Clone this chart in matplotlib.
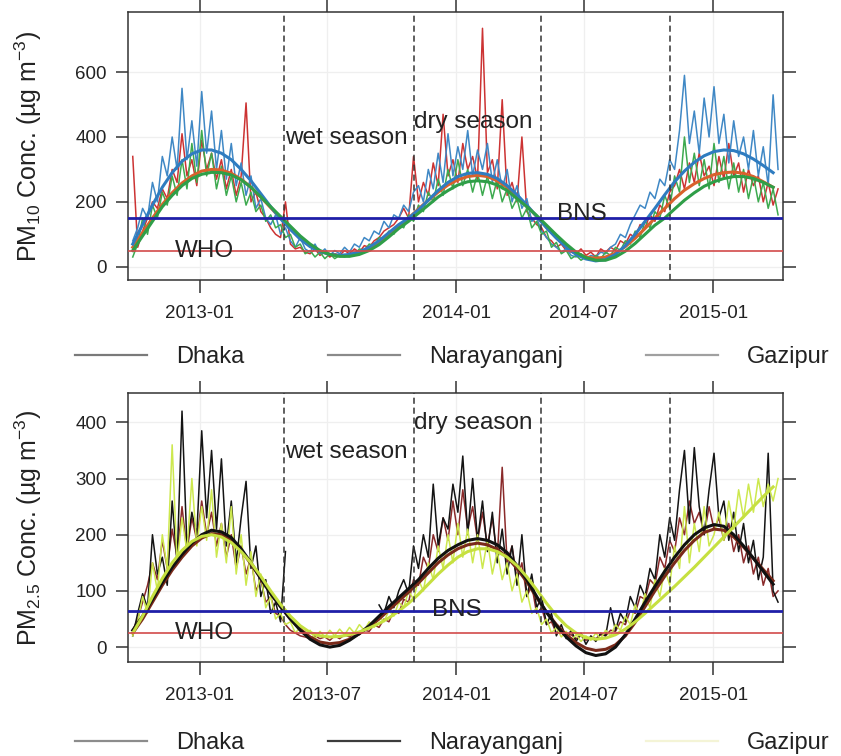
"""
Daily PM10 / PM2.5 at the three monitoring stations (Dhaka, Narayanganj, Gazipur),
with smoothed seasonal fits, season boundaries and the BNS / WHO standards.
"""

import numpy as np
import pandas as pd
import matplotlib
matplotlib.use("Agg")
import matplotlib.pyplot as plt
from matplotlib.lines import Line2D

plt.rcParams["font.family"] = ["Liberation Sans", "DejaVu Sans"]
plt.rcParams["mathtext.fontset"] = "custom"
plt.rcParams["mathtext.rm"] = "Liberation Sans"
plt.rcParams["mathtext.it"] = "Liberation Sans:italic"

# ─────────────────────────────────────────────────────────────────────────────
# Data (weekly samples from 2012-09-28; smooth fits every two weeks)
# ─────────────────────────────────────────────────────────────────────────────

START = "2012-09-28"
STATIONS = ["Dhaka", "Narayanganj", "Gazipur"]
SEASON_BREAKS = ["2013-05-01", "2013-11-01", "2014-05-01", "2014-11-01"]
TICK_DATES = ["2013-01-01", "2013-07-01", "2014-01-01", "2014-07-01", "2015-01-01"]
TICK_LABELS = ["2013-01", "2013-07", "2014-01", "2014-07", "2015-01"]

PM10_BNS, PM10_WHO = 150, 50
PM25_BNS, PM25_WHO = 65, 25

pm10_dhaka = [
    340, 60, 110, 150, 200, 180, 240, 210, 300, 260, 410, 280, 330, 250, 390, 300,
    350, 270, 330, 240, 300, 220, 280, 505, 200, 230, 170, 150, 120, 100, 90, 200,
    70, 55, 60, 45, 40, 55, 35, 45, 30, 40, 35, 50, 40, 55, 45, 65,
    60, 80, 90, 110, 120, 130, 150, 180, 150, 340, 200, 260, 220, 320, 250, 470,
    280, 330, 260, 380, 300, 340, 270, 735, 290, 330, 240, 515, 220, 260, 200, 400,
    170, 150, 130, 120, 90, 80, 60, 70, 50, 45, 40, 55, 35, 45, 30, 55,
    45, 60, 50, 80, 70, 100, 90, 130, 120, 160, 140, 190, 170, 230, 250, 300,
    240, 320, 260, 350, 280, 310, 250, 340, 270, 380, 280, 320, 230, 300, 250, 280,
    200, 260, 190, 240,
]
pm10_narayanganj = [
    80, 120, 180, 150, 260, 200, 340, 280, 400, 300, 550, 330, 450, 310, 540, 350,
    480, 300, 420, 270, 380, 250, 320, 220, 280, 180, 210, 150, 130, 160, 100, 120,
    80, 60, 90, 55, 45, 70, 40, 55, 35, 50, 40, 60, 45, 70, 60, 90,
    80, 110, 100, 140, 120, 160, 150, 190, 170, 230, 250, 200, 300, 240, 350, 260,
    410, 280, 370, 300, 420, 280, 360, 300, 380, 260, 330, 240, 300, 200, 250, 180,
    210, 140, 150, 110, 90, 70, 60, 45, 55, 35, 30, 40, 25, 35, 30, 45,
    40, 60, 70, 100, 90, 130, 160, 190, 180, 230, 210, 270, 250, 330, 300, 420,
    590, 380, 480, 350, 520, 400, 555, 380, 470, 320, 450, 340, 400, 300, 420, 280,
    370, 250, 530, 300,
]
pm10_gazipur = [
    30, 70, 150, 100, 190, 150, 230, 190, 280, 220, 330, 240, 380, 260, 420, 280,
    350, 240, 310, 220, 280, 200, 260, 190, 230, 170, 190, 140, 160, 120, 130, 90,
    100, 60, 70, 40, 50, 30, 45, 25, 40, 25, 35, 30, 40, 35, 55, 50,
    70, 65, 90, 85, 110, 100, 130, 120, 160, 140, 190, 170, 230, 200, 270, 220,
    300, 240, 330, 250, 300, 230, 290, 220, 280, 210, 270, 200, 240, 180, 210, 150,
    180, 120, 140, 100, 110, 60, 75, 40, 50, 25, 35, 20, 30, 20, 35, 25,
    45, 35, 60, 50, 80, 70, 110, 90, 140, 120, 170, 150, 220, 180, 280, 230,
    400, 260, 350, 250, 330, 240, 380, 260, 340, 240, 320, 230, 300, 210, 280, 200,
    260, 180, 240, 160,
]

pm10_dhaka_fit = [
    60, 105, 150, 192, 228, 258, 280, 295, 300, 298, 288, 270, 245, 215, 182, 150,
    118, 88, 64, 48, 38, 34, 35, 42, 56, 75, 98, 124, 150, 178, 205, 230,
    252, 268, 278, 282, 278, 265, 245, 218, 188, 155, 122, 90, 62, 42, 30, 26,
    30, 42, 62, 88, 118, 150, 180, 210, 236, 256, 272, 284, 290, 292, 288, 278,
    262, 245,
]
pm10_narayanganj_fit = [
    70, 130, 190, 245, 290, 325, 348, 360, 360, 350, 330, 300, 265, 225, 185, 148,
    115, 85, 62, 47, 38, 35, 38, 46, 60, 80, 105, 130, 150, 175, 205, 235,
    260, 278, 288, 290, 285, 272, 250, 222, 190, 155, 120, 88, 60, 38, 24, 18,
    22, 38, 65, 100, 140, 180, 222, 262, 295, 322, 342, 355, 360, 358, 348, 332,
    312, 290,
]
pm10_gazipur_fit = [
    50, 95, 140, 185, 220, 250, 272, 285, 291, 290, 283, 268, 245, 215, 185, 155,
    125, 95, 70, 50, 38, 32, 32, 38, 50, 68, 92, 118, 140, 165, 190, 215,
    235, 252, 262, 265, 262, 252, 235, 210, 185, 158, 128, 98, 70, 45, 28, 20,
    20, 30, 48, 72, 100, 128, 150, 178, 205, 228, 248, 262, 272, 278, 278, 272,
    260, 245,
]

nan = np.nan
pm25_dhaka = [
    30, 50, 80, 110, 150, 120, 190, 140, 210, 160, 250, 170, 230, 190, 260, 200,
    240, 180, 220, 160, 200, 140, 180, 130, 160, 100, 120, 80, 90, 60, 55, 40,
    30, 25, 20, 18, 15, 20, 15, 18, 12, 20, 15, 22, 18, 25, 22, 30,
    28, 40, 35, 50, 45, 65, 60, 85, 80, 120, 110, 160, 140, 200, 170, 230,
    190, 260, 200, 280, 210, 250, 190, 240, 180, 230, 160, 320, 150, 180, 120, 150,
    90, 110, 60, 70, 40, 45, 25, 30, 20, 22, 15, 20, 12, 18, 15, 22,
    20, 30, 28, 45, 40, 65, 60, 90, 85, 120, 110, 160, 140, 190, 170, 230,
    200, 260, 220, 240, 200, 250, 210, 230, 190, 220, 170, 200, 150, 180, 130, 160,
    110, 140, 90, 100,
]
pm25_narayanganj = [
    20, 60, 95, 70, 200, 130, 160, 110, 260, 150, 420, 180, 240, 200, 385, 230,
    350, 210, 335, 180, 260, 150, 230, 295, 140, 180, 90, 120, 60, 80, 45, 170,
    nan, nan, nan, nan, nan, nan, nan, nan, nan, nan, nan, nan, nan, nan, nan, nan,
    nan, nan, 75, 60, 90, 70, 100, 120, 95, 180, 140, 200, 160, 290, 180, 230,
    210, 290, 240, 340, 200, 300, 190, 260, 170, 240, 150, 210, 130, 180, 110, 200,
    90, 130, 70, 90, 40, 60, 20, 40, 15, 30, 10, 25, 5, 20, 10, 25,
    20, 70, 30, 60, 45, 90, 70, 110, 90, 140, 120, 200, 160, 230, 190, 280,
    350, 220, 355, 250, 200, 280, 345, 230, 260, 190, 240, 170, 220, 150, 190, 120,
    160, 345, 100, 80,
]
pm25_gazipur = [
    20, 45, 90, 60, 150, 100, 200, 140, 360, 150, 230, 170, 300, 180, 250, 190,
    280, 160, 220, 150, 250, 130, 200, 110, 170, 90, 130, 70, 90, 50, 60, 40,
    45, 25, 35, 20, 30, 15, 28, 18, 30, 20, 32, 22, 35, 25, 40, 30,
    45, 35, 55, 45, 65, 55, 80, 70, 100, 85, 120, 100, 150, 120, 180, 140,
    200, 150, 220, 160, 210, 150, 200, 140, 190, 130, 170, 120, 150, 100, 130, 80,
    100, 60, 70, 40, 50, 25, 35, 18, 28, 12, 22, 10, 20, 12, 25, 15,
    30, 20, 40, 30, 55, 40, 75, 55, 95, 70, 120, 90, 140, 110, 180, 140,
    250, 150, 220, 170, 250, 180, 200, 240, 190, 260, 210, 280, 230, 290, 240, 300,
    250, 290, 260, 300,
]

pm25_dhaka_fit = [
    25, 50, 80, 110, 137, 160, 180, 194, 202, 200, 190, 172, 148, 122, 96, 72,
    50, 32, 18, 9, 6, 8, 14, 24, 36, 50, 66, 82, 98, 114, 132, 150,
    164, 175, 182, 185, 182, 174, 160, 140, 116, 88, 62, 40, 22, 8, -2, -6,
    -4, 4, 20, 44, 72, 100, 126, 150, 172, 190, 204, 210, 208, 196, 178, 158,
    138, 118,
]
pm25_narayanganj_fit = [
    30, 55, 85, 115, 142, 165, 185, 200, 208, 205, 195, 175, 150, 122, 95, 72,
    50, 30, 14, 4, 0, 3, 12, 24, 38, 55, 72, 88, 104, 120, 140, 158,
    172, 182, 190, 193, 190, 182, 168, 145, 120, 90, 62, 38, 18, 2, -10, -15,
    -12, 0, 22, 50, 80, 108, 135, 160, 182, 200, 212, 218, 215, 200, 180, 158,
    135, 112,
]
pm25_gazipur_fit = [
    25, 55, 90, 122, 150, 172, 188, 197, 200, 196, 186, 170, 150, 126, 100, 76,
    55, 38, 26, 20, 18, 19, 22, 27, 34, 42, 52, 64, 78, 94, 112, 130,
    146, 160, 170, 175, 175, 170, 160, 145, 125, 102, 78, 56, 38, 25, 17, 14,
    16, 22, 32, 45, 60, 76, 92, 108, 125, 142, 160, 178, 196, 214, 232, 250,
    268, 285,
]

# ─────────────────────────────────────────────────────────────────────────────
# Plotting helpers
# ─────────────────────────────────────────────────────────────────────────────

def style_axis(ax, ylim, yticks, ylabel):
    ax.set_xlim(pd.Timestamp("2012-09-21"), pd.Timestamp("2015-04-10"))
    ax.set_ylim(*ylim)
    ax.set_yticks(yticks)
    ax.set_xticks(pd.to_datetime(TICK_DATES))
    ax.set_xticklabels(TICK_LABELS)
    ax.tick_params(axis="both", direction="out", length=9, width=1.1,
                   labelsize=13.5, color="#333333", labelcolor="#222222", pad=6,
                   top=True, right=True)
    ax.tick_params(axis="x", pad=9)
    ax.grid(True, color="#efefef", linewidth=0.9)
    ax.set_axisbelow(True)
    for sp in ax.spines.values():
        sp.set_color("#333333")
        sp.set_linewidth(1.1)
    ax.set_ylabel(ylabel, fontsize=18, color="#222222")
    ax.yaxis.set_label_coords(-0.128, 0.5)
    for d in SEASON_BREAKS:
        ax.axvline(pd.Timestamp(d), color="#333333", linewidth=1.1,
                   linestyle=(0, (4, 2.5)), zorder=4)


def draw_panel(ax, raw, fits, colors, fit_colors, bns, who, labels_at):
    dates = pd.date_range(START, periods=len(raw[0]), freq="7D")
    fit_dates = pd.date_range(START, periods=len(fits[0]), freq="14D")
    for vals, color in zip(raw, colors):
        ax.plot(dates, vals, color=color, linewidth=1.1, zorder=2)
    for vals, color in zip(fits, fit_colors):
        ax.plot(fit_dates, vals, color=color, linewidth=2.2, zorder=3)
    ax.axhline(bns, color="#1f1fa8", linewidth=2.0, zorder=5)
    ax.axhline(who, color="#d24a4a", linewidth=1.2, zorder=5)

    txt = dict(fontsize=17.5, color="#222222", zorder=6)
    ax.text(pd.Timestamp("2013-01-08"), who, "WHO", ha="center", va="center", **txt)
    ax.text(pd.Timestamp("2013-05-03"), labels_at["wet"], "wet season",
            ha="left", va="center", **txt)
    ax.text(pd.Timestamp("2013-11-01"), labels_at["dry"], "dry season",
            ha="left", va="center", **txt)
    ax.text(labels_at["bns_x"], labels_at["bns_y"], "BNS",
            ha="center", va="center", **txt)


def add_legend(fig, y, colors):
    handles = [Line2D([], [], color=c, linewidth=1.6) for c in colors]
    fig.legend(handles, STATIONS, loc="center", bbox_to_anchor=(0.538, y),
               ncol=3, frameon=False, fontsize=17, handlelength=3.05,
               handletextpad=1.25, columnspacing=3.5, labelcolor="#222222")


# ─────────────────────────────────────────────────────────────────────────────
# Figure
# ─────────────────────────────────────────────────────────────────────────────

fig = plt.figure(figsize=(8.41, 7.56), dpi=100)
ax_top = fig.add_axes([0.152, 0.630, 0.779, 0.354])
ax_bot = fig.add_axes([0.152, 0.124, 0.779, 0.356])

draw_panel(
    ax_top,
    [pm10_dhaka, pm10_narayanganj, pm10_gazipur],
    [pm10_dhaka_fit, pm10_narayanganj_fit, pm10_gazipur_fit],
    ["#cc3333", "#3f88c5", "#3daa4f"],
    ["#d9612c", "#2f7cc0", "#2f9e48"],
    PM10_BNS, PM10_WHO,
    {"wet": 397, "dry": 446, "bns_x": pd.Timestamp("2014-06-28"), "bns_y": 163},
)
style_axis(ax_top, (-40, 785), [0, 200, 400, 600],
           r"PM$_{10}$ Conc. (µg m$^{-3}$)")

draw_panel(
    ax_bot,
    [pm25_dhaka, pm25_narayanganj, pm25_gazipur],
    [pm25_dhaka_fit, pm25_narayanganj_fit, pm25_gazipur_fit],
    ["#8a2a2a", "#141414", "#cde84e"],
    ["#7a2a1a", "#111111", "#c6e040"],
    PM25_BNS, PM25_WHO,
    {"wet": 347, "dry": 398, "bns_x": pd.Timestamp("2014-01-01"), "bns_y": 66},
)
style_axis(ax_bot, (-27, 452), [0, 100, 200, 300, 400],
           r"PM$_{2.5}$ Conc. (µg m$^{-3}$)")

add_legend(fig, 0.528, ["#7a7a7a", "#8a8a8a", "#a0a0a0"])
add_legend(fig, 0.017, ["#8c8c8c", "#3c3c3c", "#f4f4d6"])

fig.savefig("out.png", dpi=100)
plt.close(fig)
